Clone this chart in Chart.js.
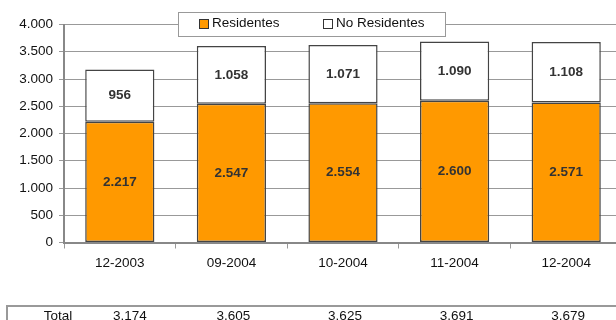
<!DOCTYPE html>
<html>
<head>
<meta charset="utf-8">
<script src="https://cdn.jsdelivr.net/npm/chart.js@4.4.1/dist/chart.umd.min.js"></script>
<style>
    html, body { margin: 0; padding: 0; background: #fff; overflow: hidden; }
    #wrap { position: relative; width: 622px; height: 320px; }
</style>
</head>
<body>
<div id="wrap"><canvas id="chart" width="622" height="320"></canvas></div>
<script>
// Data
const categories = ['12-2003', '09-2004', '10-2004', '11-2004', '12-2004'];
const residentes = [2217, 2547, 2554, 2600, 2571];
const noResidentes = [956, 1058, 1071, 1090, 1108];
const totals = [3174, 3605, 3625, 3691, 3679];
const yTicks = [0, 500, 1000, 1500, 2000, 2500, 3000, 3500, 4000];

const FONT = 'Arial, "Liberation Sans", sans-serif';

// thousands with a dot
const fmt = (n) => String(n).replace(/\B(?=(\d{3})+(?!\d))/g, '.');

// labels inside the bars
const barLabels = {
    id: 'barLabels',
    afterDatasetsDraw(chart) {
        const ctx = chart.ctx;
        ctx.save();
        ctx.font = 'bold 13.5px ' + FONT;
        ctx.fillStyle = '#333';
        ctx.textAlign = 'center';
        ctx.textBaseline = 'middle';
        chart.data.datasets.forEach((ds, i) => {
            chart.getDatasetMeta(i).data.forEach((bar, j) => {
                const mid = (bar.y + bar.base) / 2;
                ctx.fillText(fmt(ds.data[j]), bar.x, mid);
            });
        });
        ctx.restore();
    }
};

// legend box sitting on top of the grid
const boxLegend = {
    id: 'boxLegend',
    afterDraw(chart) {
        const ctx = chart.ctx;
        ctx.save();
        ctx.fillStyle = '#fff';
        ctx.fillRect(178, 12, 267, 24);
        ctx.strokeStyle = '#999';
        ctx.lineWidth = 1;
        ctx.strokeRect(178.5, 12.5, 267, 24);
        ctx.font = '13.5px ' + FONT;
        ctx.textBaseline = 'middle';
        ctx.textAlign = 'left';
        const starts = [199, 323];
        chart.data.datasets.forEach((ds, i) => {
            const x = starts[i];
            ctx.fillStyle = ds.backgroundColor;
            ctx.fillRect(x, 19, 9, 9);
            ctx.strokeStyle = '#333';
            ctx.strokeRect(x + 0.5, 19.5, 9, 9);
            ctx.fillStyle = '#111';
            ctx.fillText(ds.label, x + 13, 23);
        });
        ctx.restore();
    }
};

// totals table under the chart
const totalsTable = {
    id: 'totalsTable',
    afterDraw(chart) {
        const ctx = chart.ctx;
        const xs = chart.scales.x;
        ctx.save();
        ctx.strokeStyle = '#999';
        ctx.lineWidth = 2;
        ctx.beginPath();
        ctx.moveTo(7, 325);
        ctx.lineTo(7, 306);
        ctx.lineTo(640, 306);
        ctx.stroke();
        ctx.font = '13.5px ' + FONT;
        ctx.fillStyle = '#111';
        ctx.textAlign = 'center';
        ctx.textBaseline = 'middle';
        ctx.fillText('Total', 58, 316);
        totals.forEach((t, i) => {
            ctx.fillText(fmt(t), xs.getPixelForValue(i) + (i === 0 ? 10 : 2), 316);
        });
        ctx.restore();
    }
};

const ctxChart = document.getElementById('chart').getContext('2d');
new Chart(ctxChart, {
    type: 'bar',
    data: {
        labels: categories,
        datasets: [{
            label: 'Residentes',
            data: residentes,
            backgroundColor: '#FF9900',
            borderColor: '#444',
            borderWidth: 1.5,
            borderSkipped: false,
            categoryPercentage: 1,
            barPercentage: 0.62
        }, {
            label: 'No Residentes',
            data: noResidentes,
            backgroundColor: '#FFFFFF',
            borderColor: '#444',
            borderWidth: 1.5,
            borderSkipped: false,
            categoryPercentage: 1,
            barPercentage: 0.62
        }]
    },
    options: {
        responsive: false,
        animation: false,
        layout: { padding: { top: 24.5, left: 0, right: 0, bottom: 0 } },
        plugins: {
            legend: { display: false },
            tooltip: { enabled: false }
        },
        scales: {
            x: {
                stacked: true,
                offset: true,
                grid: {
                    offset: true,
                    drawOnChartArea: false,
                    drawTicks: true,
                    tickLength: 6,
                    color: '#999'
                },
                border: { color: '#888', width: 2 },
                ticks: {
                    color: '#111',
                    font: { family: FONT, size: 13.5 },
                    padding: 7,
                    maxRotation: 0
                },
                afterFit(scale) { scale.height = 77.5; }
            },
            y: {
                stacked: true,
                min: 0,
                max: 4000,
                afterBuildTicks(scale) {
                    scale.ticks = yTicks.map(v => ({ value: v }));
                },
                grid: {
                    color: '#999',
                    lineWidth: 1,
                    tickLength: 5
                },
                border: { color: '#888', width: 2 },
                ticks: {
                    color: '#111',
                    font: { family: FONT, size: 13.5 },
                    padding: 6,
                    callback: (v) => fmt(v)
                },
                afterFit(scale) { scale.width = 64; }
            }
        }
    },
    plugins: [barLabels, boxLegend, totalsTable]
});
</script>
</body>
</html>
